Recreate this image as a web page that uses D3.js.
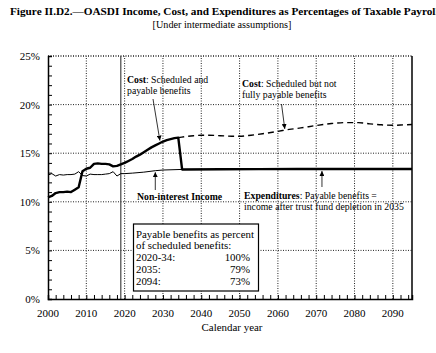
<!DOCTYPE html>
<html>
<head>
<meta charset="utf-8">
<script src="https://cdn.jsdelivr.net/npm/d3@7"></script>
<style>
  body { margin: 0; background: #fff; }
</style>
</head>
<body>
<div id="chart"></div>
<script>
// cost rate, scheduled = payable (solid) through 2034
var costYears = [2000, 2001, 2002, 2003, 2004, 2005, 2006, 2007, 2008, 2009, 2010, 2011, 2012, 2013, 2014, 2015, 2016, 2017, 2018, 2019,
  2020, 2021, 2022, 2023, 2024, 2025, 2026, 2027, 2028, 2029, 2030, 2031, 2032, 2033, 2034];
var costValues = [10.45, 10.6, 10.9, 11.0, 11.0, 11.05, 11.0, 11.25, 11.5, 13.15, 13.4, 13.5, 13.9, 13.95, 13.9, 13.9, 13.85, 13.65, 13.7, 13.85,
  14.0, 14.2, 14.4, 14.65, 14.85, 15.1, 15.35, 15.6, 15.8, 16.0, 16.2, 16.35, 16.45, 16.55, 16.6];

// expenditures after depletion (payable = income)
var expYears = [2035, 2045, 2055, 2065, 2075, 2085, 2095];
var expValues = [13.33, 13.35, 13.36, 13.37, 13.37, 13.38, 13.38];

// scheduled but not payable cost (dashed)
var schedYears = [2034, 2036, 2038, 2040, 2042, 2045, 2048, 2050, 2053, 2056, 2060, 2063, 2066, 2070, 2074, 2078, 2081, 2084, 2087, 2090, 2093, 2095];
var schedValues = [16.6, 16.72, 16.8, 16.85, 16.85, 16.8, 16.75, 16.75, 16.85, 17.0, 17.25, 17.45, 17.6, 17.85, 18.05, 18.15, 18.15, 18.02, 17.92, 17.87, 17.92, 17.95];

// non-interest income rate
var incomeYears = [2000, 2001, 2002, 2003, 2004, 2005, 2006, 2007, 2008, 2009, 2010, 2011, 2012, 2013, 2014, 2015, 2016, 2017, 2018, 2019,
  2020, 2022, 2025, 2028, 2030, 2035];
var incomeValues = [12.75, 12.9, 12.65, 12.8, 12.75, 12.8, 12.8, 12.85, 13.1, 12.7, 12.65, 12.85, 12.8, 12.8, 12.8, 12.85, 12.9, 13.1, 12.65, 12.9,
  12.9, 12.95, 13.05, 13.2, 13.27, 13.33];

var xTicks = [2000, 2010, 2020, 2030, 2040, 2050, 2060, 2070, 2080, 2090];
var yTicks = [0, 5, 10, 15, 20, 25];
var legendLabels = ["2020-34:", "2035:", "2094:"];
var legendValues = ["100%", "79%", "73%"];

var width = 436, height = 353;
var serif = "Liberation Serif";
var x = d3.scaleLinear().domain([2000, 2095]).range([48, 412]);
var y = d3.scaleLinear().domain([0, 25]).range([299, 56]);

var svg = d3.select("#chart").append("svg")
  .attr("width", width).attr("height", height);

// font size giving a sample string a wanted width
function sizeFor(str, target, bold) {
  var t = svg.append("text").style("font-family", serif).style("font-size", "20px")
    .style("font-weight", bold ? "bold" : "normal").text(str);
  var s = 20 * target / t.node().getComputedTextLength();
  t.remove();
  return s;
}
var titleSize = sizeFor("Figure II.D2.\u2014OASDI Income, Cost, and Expenditures as Percentages of Taxable Payrol", 426, true);
var subSize = sizeFor("[Under intermediate assumptions]", 139);
var tickSize = sizeFor("2000", 22);
var axisSize = sizeFor("Calendar year", 61);
var noteSize = sizeFor("income after trust fund depletion in 2035", 160);
var boxSize = sizeFor("Payable benefits as percent", 118);

function txt(px, py, size) {
  return svg.append("text").attr("x", px).attr("y", py)
    .style("font-family", serif).style("font-size", size + "px").attr("fill", "#000");
}

svg.append("defs").append("marker")
  .attr("id", "arrow")
  .attr("viewBox", "0 0 10 10")
  .attr("refX", 10).attr("refY", 5)
  .attr("markerWidth", 5).attr("markerHeight", 5)
  .attr("markerUnits", "userSpaceOnUse")
  .attr("orient", "auto")
  .append("path").attr("d", "M0,0L10,5L0,10z").attr("fill", "#000");

// title, cut at the right edge like the source page
txt(10, 15, titleSize).style("font-weight", "bold")
  .text("Figure II.D2.\u2014OASDI Income, Cost, and Expenditures as Percentages of Taxable Payroll");
txt(222, 28, subSize).attr("text-anchor", "middle").text("[Under intermediate assumptions]");

// gridlines
var dotted = "1,1.5";
svg.append("g").selectAll("line").data([5, 10, 15, 20, 25]).enter().append("line")
  .attr("x1", x(2000)).attr("x2", x(2095))
  .attr("y1", function (d) { return y(d); }).attr("y2", function (d) { return y(d); })
  .attr("stroke", "#222").attr("stroke-width", function (d) { return d == 25 ? 1.5 : 1; })
  .attr("stroke-dasharray", dotted);
svg.append("g").selectAll("line").data(xTicks.slice(1)).enter().append("line")
  .attr("x1", function (d) { return x(d); }).attr("x2", function (d) { return x(d); })
  .attr("y1", y(0)).attr("y2", y(25))
  .attr("stroke", "#222").attr("stroke-dasharray", dotted);

// start of projections
svg.append("line")
  .attr("x1", x(2019)).attr("x2", x(2019)).attr("y1", y(0)).attr("y2", y(25))
  .attr("stroke", "#444").attr("stroke-width", 1.2);

// right border
svg.append("line")
  .attr("x1", x(2095)).attr("x2", x(2095)).attr("y1", y(0)).attr("y2", y(25))
  .attr("stroke", "#000").attr("stroke-width", 1.5);

// axes
var yAxis = svg.append("g")
  .attr("transform", "translate(" + x(2000) + ",0)")
  .call(d3.axisLeft(y).tickValues(d3.range(0, 26, 1)).tickSize(-4).tickFormat(""));
yAxis.selectAll("text").remove();
yAxis.select(".domain").attr("stroke-width", 1.5);
yTicks.forEach(function (d) {
  txt(40, y(d) + 4, tickSize).attr("text-anchor", "end").text(d + "%");
});

var xAxis = svg.append("g")
  .attr("transform", "translate(0," + y(0) + ")")
  .call(d3.axisBottom(x).tickValues(d3.range(2000, 2096, 2)).tickSize(-4).tickFormat(""));
xAxis.selectAll("text").remove();
xAxis.select(".domain").attr("stroke-width", 1.5);
xTicks.forEach(function (d) {
  txt(x(d), 317, tickSize).attr("text-anchor", "middle").text(d);
});

txt(232, 331, axisSize).attr("text-anchor", "middle").text("Calendar year");

// series
var line = d3.line()
  .x(function (d) { return x(d[0]); })
  .y(function (d) { return y(d[1]); });

var incomeData = d3.zip(incomeYears, incomeValues);
svg.append("path").datum(incomeData)
  .attr("d", line)
  .attr("fill", "none").attr("stroke", "#000").attr("stroke-width", 1);

var schedData = d3.zip(schedYears, schedValues);
svg.append("path").datum(schedData)
  .attr("d", line.curve(d3.curveMonotoneX))
  .attr("fill", "none").attr("stroke", "#000").attr("stroke-width", 1.4)
  .attr("stroke-dasharray", "6,4");
line.curve(d3.curveLinear);

var costData = d3.zip(costYears, costValues).concat(d3.zip(expYears, expValues));
svg.append("path").datum(costData)
  .attr("d", line)
  .attr("fill", "none").attr("stroke", "#000").attr("stroke-width", 2.4)
  .attr("stroke-linejoin", "round");

// annotations
function note(tx, ty, parts) {
  var t = txt(tx, ty, noteSize);
  parts.forEach(function (p) {
    t.append("tspan").style("font-weight", p[1] ? "bold" : "normal").text(p[0]);
  });
}
function arrow(x1, y1, x2, y2) {
  svg.append("line")
    .attr("x1", x1).attr("y1", y1).attr("x2", x2).attr("y2", y2)
    .attr("stroke", "#000").attr("stroke-width", 0.8)
    .attr("marker-end", "url(#arrow)");
}

note(127, 83, [["Cost", true], [": Scheduled and", false]]);
note(127, 94, [["payable benefits", false]]);
arrow(153, 99, x(2029.2), y(16.3));

note(242, 87, [["Cost", true], [": Scheduled but not", false]]);
note(242, 98, [["fully payable benefits", false]]);
arrow(281.5, 104, x(2061.8), y(17.5));

note(137, 200, [["Non-interest Income", true]]);
arrow(x(2028), 190, x(2028), y(13.2) + 1.5);

note(244, 199, [["Expenditures", true], [": Payable benefits =", false]]);
note(244, 210, [["income after trust fund depletion in 2035", false]]);
arrow(x(2071.5), 187, x(2071.5), y(13.37) + 2);

// legend box
svg.append("rect")
  .attr("x", 133.5).attr("y", 224).attr("width", 125).attr("height", 67)
  .attr("fill", "#fff").attr("stroke", "#000").attr("stroke-width", 1.2);
txt(136, 237.5, boxSize).text("Payable benefits as percent");
txt(136, 249, boxSize).text("of scheduled benefits:");
legendLabels.forEach(function (l, i) {
  txt(136, 261 + i * 12, boxSize).text(l);
  txt(250, 261 + i * 12, boxSize).attr("text-anchor", "end").text(legendValues[i]);
});
</script>
</body>
</html>
